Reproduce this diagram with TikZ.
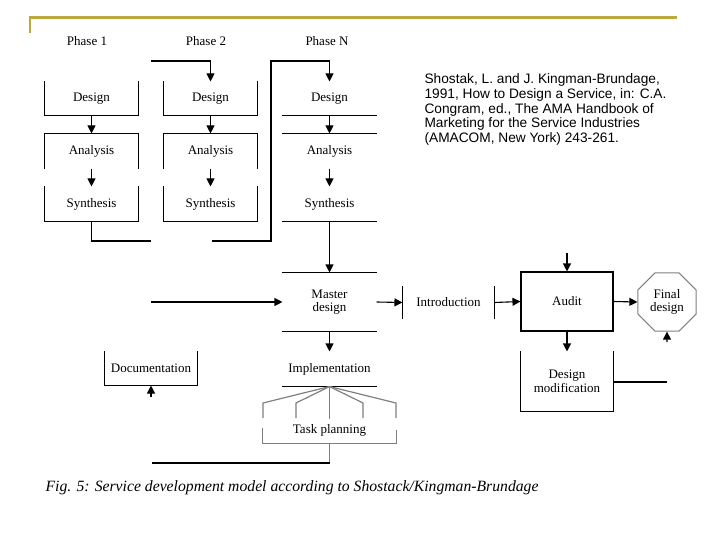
\documentclass[tikz,border=0pt]{standalone}
\usepackage{fontspec}
\setmainfont{Liberation Serif}
\newfontfamily\citefont{Liberation Sans}
\usetikzlibrary{positioning, arrows.meta, shapes.geometric}
\definecolor{slidegold}{RGB}{190,168,62}
\tikzset{>={Triangle[length=8pt,width=8pt]},
         every node/.style={font=\fontsize{13}{13.5}\selectfont},
         stage/.style={minimum width=93pt,minimum height=34pt,inner sep=0pt,align=center},
         tasklink/.style={draw=gray,line width=1.2pt},
        }

\begin{document}
\begin{tikzpicture}[x=1pt,y=-1pt,line width=1.1pt]
        \useasboundingbox (0,0) rectangle (720,540);
        % slide rule
        \draw[slidegold,line width=2.5pt] (30,33) -- (30,17.5) -- (677,17.5);
        % phases
        \node(p1)at(87,41){Phase 1};
        \node(p2)at(206,41){Phase 2};
        \node(pn)at(327,41){Phase N};
        \foreach \i/\x in {1/91.5,2/210.5,3/329.5}{
          \node[stage,minimum height=33pt](d\i)at(\x,98.5){Design};
          \node[stage](a\i)at(\x,151){Analysis};
          \node[stage](s\i)at(\x,204){Synthesis};
          \draw[->](d\i)--(a\i);
          \draw[->](a\i)--(s\i);
        }
        \foreach \i in {1,2}{
          \draw(d\i.north west)--(d\i.south west)--(d\i.south east)--(d\i.north east);
          \draw(a\i.south west)--(a\i.north west)--(a\i.north east)--(a\i.south east);
          \draw(s\i.north west)--(s\i.south west)--(s\i.south east)--(s\i.north east);
        }
        \draw(d3.south west)--(d3.south east);
        \draw(a3.north west)--(a3.north east);
        \draw(s3.south west)--(s3.south east);
        % feedback between phases
        \coordinate(g1)at(151,241);
        \coordinate(g2)at(151,61);
        \coordinate(g3)at(212,241);
        \coordinate(g4)at(271,61);
        \draw(s1.south)|-(g1);
        \draw[->](g2)-|(d2.north);
        \draw[->](g3)-|(g4)-|(d3.north);
        % master design and audit
        \node[stage,minimum height=58pt](md)at(329.5,302){Master\\design};
        \draw(md.north west)--(md.north east);
        \draw(md.south west)--(md.south east);
        \draw[->](s3)--(md);
        \coordinate(in)at(151,302);
        \draw[->](in)--(md.west);
        \node[stage,minimum width=91pt,minimum height=31pt](intro)at(448.5,302.5){Introduction};
        \draw(intro.north west)--(intro.south west);
        \draw(intro.north east)--(intro.south east);
        \draw[->](md.east)--(intro.west);
        \node[stage,draw,minimum width=92pt,minimum height=59pt](audit)at(567,301.5){Audit};
        \draw[->](intro.east)--(audit.west);
        \coordinate(ain)at(567,253);
        \draw[->](ain)--(audit.north);
        \node[regular polygon,regular polygon sides=8,draw=gray,minimum size=63pt,inner sep=0pt,align=center](final)at(667,302){Final\\design};
        \draw[->](audit.east)--(final.west);
        \coordinate(fin)at(667,342);
        \draw[->](fin)--(final.south);
        \node[stage,minimum width=92pt,minimum height=59pt](mod)at(567,381.5){Design\\modification};
        \draw(mod.north west)--(mod.south west)--(mod.south east)--(mod.north east);
        \draw[->](audit)--(mod);
        \coordinate(mout)at(667,382);
        \draw(mod.east|-mout)--(mout);
        % implementation
        \node[stage](impl)at(329.5,369){Implementation};
        \draw(impl.south west)--(impl.south east);
        \draw[->](md)--(impl);
        \node[stage,minimum width=92pt,minimum height=33pt](doc)at(151,368.5){Documentation};
        \draw(doc.north west)--(doc.south west)--(doc.south east)--(doc.north east);
        \coordinate(dout)at(151,397);
        \draw[->](dout)--(doc.south);
        % task planning
        \node[stage,minimum width=133pt,minimum height=26pt](task)at(329.5,430){Task planning};
        \foreach \x in {263,296,363,396}{
          \coordinate(f\x)at(\x,403);
          \draw[tasklink](impl.south)--(f\x)--++(0,15);
        }
        \draw[tasklink](impl.south)--++(0,32);
        \draw[tasklink](task.north west)++(0,12)--(task.south west)--(task.south east)--++(0,-14);
        \coordinate(tb)at(329.5,463);
        \coordinate(te)at(152,463);
        \draw[tasklink](task.south)--(tb);
        \draw(tb)--(te);
        % reference and caption
        \node[anchor=north west,align=left,inner sep=0pt,font=\citefont\fontsize{13.7}{14.8}\selectfont](ref)at(424,73){Shostak, L. and J. Kingman-Brundage,\\1991, How to Design a Service, in: C.A.\\Congram, ed., The AMA Handbook of\\Marketing for the Service Industries\\(AMACOM, New York) 243-261.};
        \node[anchor=base west,inner sep=0pt,font=\itshape\fontsize{15.7}{17}\selectfont](cap)at(45,491){Fig. 5: Service development model according to Shostack/Kingman-Brundage};
\end{tikzpicture}
\end{document}
